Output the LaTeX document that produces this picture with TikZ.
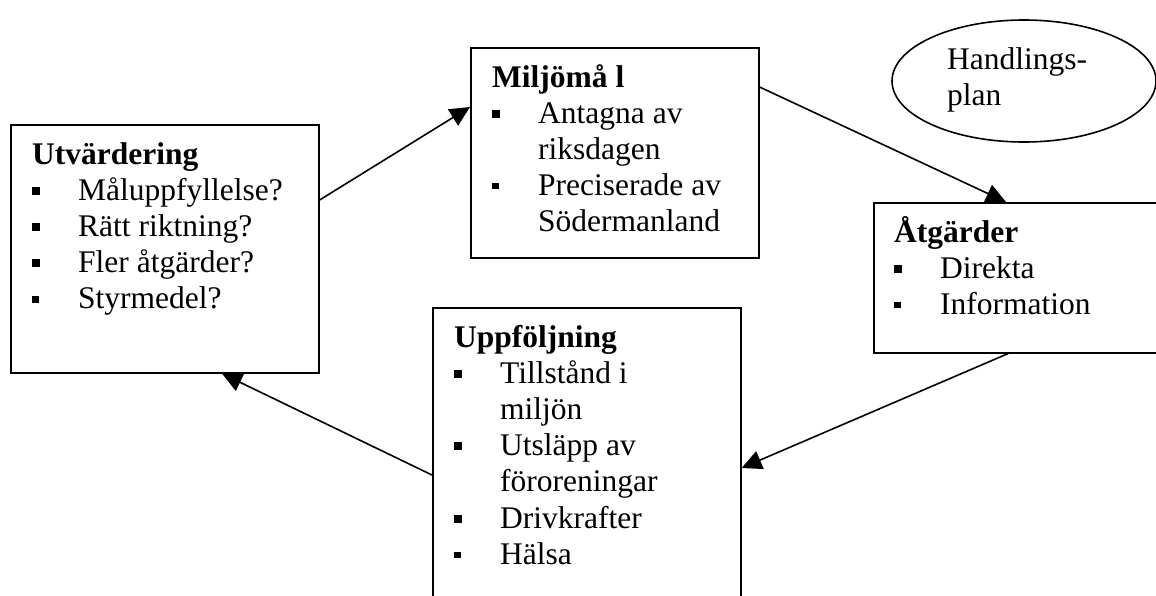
\documentclass[tikz,border=0pt]{standalone}
\usepackage{fontspec}
\setmainfont{Liberation Serif}
\usetikzlibrary{arrows.meta,shapes.geometric,backgrounds}
\tikzset{
  frame/.style={draw, line width=1.6pt, fill=white, rectangle, inner sep=0pt, anchor=north west},
  txt/.style={anchor=base west, inner sep=0pt, font=\fontsize{31.5}{36.2}\selectfont},
  arr/.style={line width=1.6pt, -{Triangle[length=20pt,width=19pt]}},
}
\newcommand\bulA{\makebox[46pt][l]{\rule[5.5pt]{8pt}{8pt}}}
\newcommand\bulB{\makebox[46pt][l]{\rule[6.2pt]{6.5pt}{6.5pt}}}
\newcommand\contl{\hspace*{46pt}}
\begin{document}
\begin{tikzpicture}[x=1pt,y=-1pt]
\useasboundingbox (0,0) rectangle (1156,595);
\clip (0,0) rectangle (1156,595);
% boxes
\node[frame, minimum width=308pt, minimum height=248pt] (U) at (10,124) {};
\node[frame, minimum width=288pt, minimum height=210pt] (M) at (470,47) {};
\node[frame, minimum width=292pt, minimum height=150pt] (A) at (873,202) {};
\node[frame, minimum width=308pt, minimum height=300pt] (P) at (432,307) {};
\node[draw, ellipse, line width=1.6pt, minimum width=264pt, minimum height=122pt, inner sep=0pt] (H) at (1024,81) {};
% texts
\foreach \t [count=\i from 0] in {{\textbf{Utvärdering}},{\bulA Måluppfyllelse?},{\bulA Rätt riktning?},{\bulA Fler åtgärder?},{\bulB Styrmedel?}}
  \path (U.north west) ++(22,40+\i*36.2) node[txt] (u\i) {\t};
\foreach \t [count=\i from 0] in {{\textbf{Miljömå l}},{\bulA Antagna av},{\contl riksdagen},{\bulB Preciserade av},{\contl Södermanland}}
  \path (M.north west) ++(22,40+\i*36.2) node[txt] (m\i) {\t};
\foreach \t [count=\i from 0] in {{\textbf{Åtgärder}},{\bulA Direkta},{\bulB Information}}
  \path (A.north west) ++(21,40+\i*36.2) node[txt] (a\i) {\t};
\foreach \t [count=\i from 0] in {{\textbf{Uppföljning}},{\bulA Tillstånd i},{\contl miljön},{\bulA Utsläpp av},{\contl föroreningar},{\bulA Drivkrafter},{\bulB Hälsa}}
  \path (P.north west) ++(22,40+\i*36.2) node[txt] (p\i) {\t};
\node[txt] (h1) at (947,69) {Handlings-};
\node[txt] (h2) at (947,105) {plan};
% connectors
\begin{scope}[on background layer]
\draw[arr] ([shift={(0,76)}]U.north east) -- ([shift={(0,60)}]M.north west);
\draw[arr] ([shift={(0,40)}]M.north east) -- ([shift={(133,0)}]A.north west);
\draw[arr] ([shift={(135,0)}]A.south west) -- ([shift={(0,161)}]P.north east);
\draw[arr] ([shift={(0,168)}]P.north west) -- ([shift={(212,0)}]U.south west);
\end{scope}
\end{tikzpicture}
\end{document}
